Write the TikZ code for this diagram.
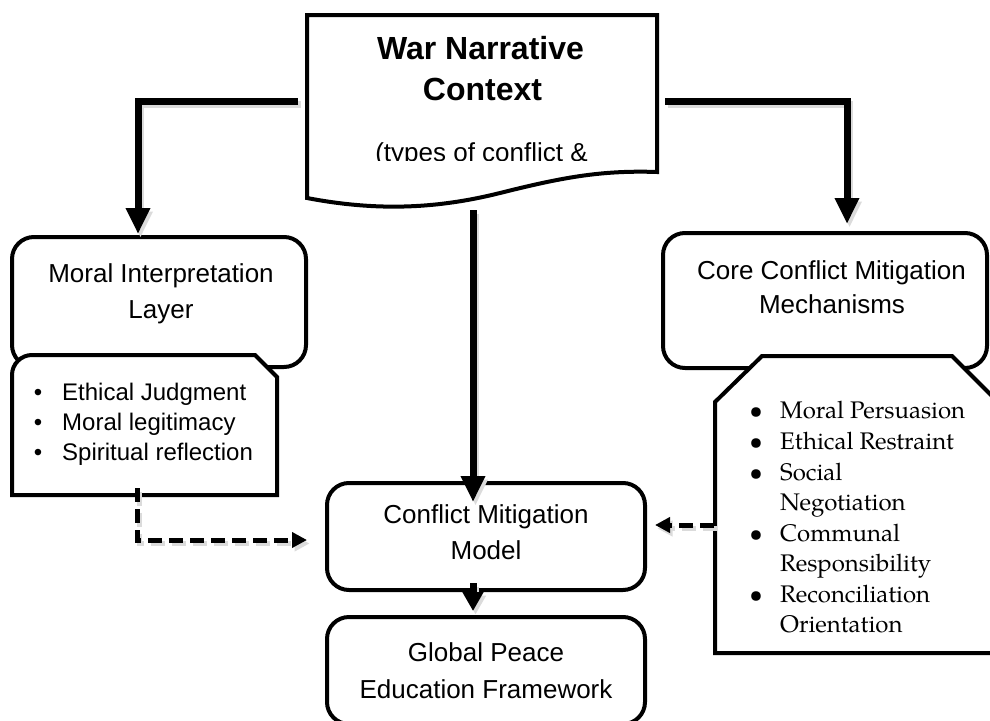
\documentclass[tikz,border=0pt]{standalone}
\usepackage{fontspec}
\setmainfont{Liberation Sans}
\newfontfamily\palfont{TeX Gyre Pagella}
\usetikzlibrary{arrows.meta}
\newcommand{\bul}{\llap{\makebox[0pt][c]{\textbullet}\hspace{24pt}}}
\begin{document}
\begin{tikzpicture}[x=1pt,y=-1pt,
  boxline/.style={draw=black, line width=4pt, fill=white, line join=miter},
  rbox/.style={boxline, rounded corners=22pt, inner sep=0pt},
  txt/.style={anchor=base, inner sep=0pt, font=\fontsize{26}{30}\selectfont},
  ttl/.style={anchor=base, inner sep=0pt, font=\fontsize{32}{38}\selectfont\bfseries},
  bl/.style={anchor=base west, inner sep=0pt, font=\fontsize{24}{28}\selectfont},
  br/.style={anchor=base west, inner sep=0pt, font=\palfont\fontsize{24}{28}\selectfont},
  bigarrow/.style={line width=7pt, line join=miter, -{Triangle[width=23pt,length=26pt]}},
  smallarrow/.style={line width=7pt, -{Triangle[width=20pt,length=19pt]}},
  dasharrow/.style={line width=5pt, dash pattern=on 14pt off 7pt, line join=miter, -{Triangle[width=15pt,length=15pt]}},
  shade/.style={draw=black!14, transform canvas={xshift=2.5pt,yshift=-3.5pt}}
]
\clip (0,0) rectangle (990,720);
\fill[white] (0,0) rectangle (990,720);

% ---------- top document shape ----------
\draw[boxline] (307,198) -- (307,15) -- (657,15) -- (657,172)
  .. controls (600,170) and (560,178) .. (500,193)
  .. controls (440,208) and (380,212) .. (307,198) -- cycle;
\node[ttl] (t1) at (480.5,59) {War Narrative};
\node[ttl] (t2) at (482.5,100) {Context};
\begin{scope}
  \clip (300,0) rectangle (660,160);
  \node[txt] (t3) at (481.5,161) {(types of conflict \&};
\end{scope}
\coordinate (docL) at (298,101);
\coordinate (docR) at (665,101);
\coordinate (docB) at (473,210);

% ---------- boxes ----------
\node[rbox, minimum width=294pt, minimum height=130pt] (mil) at (159,302) {};
\node[rbox, minimum width=324pt, minimum height=135pt] (ccm) at (825,300.5) {};
\node[rbox, minimum width=318pt, minimum height=107pt] (cmm) at (486,536.5) {};
\node[rbox, minimum width=318pt, minimum height=107pt] (gpe) at (486,670.5) {};

% left bullet box
\draw[boxline] (12,495) -- (12,375) .. controls (12,364) and (21,355) .. (32,355)
  -- (255,355) -- (277,377) -- (277,495) -- cycle;
% right bullet box
\draw[boxline] (715,402) -- (762,356) -- (952,356) -- (1012,416) -- (1012,653) -- (715,653) -- cycle;

% ---------- box texts ----------
\node[txt] (mil1) at (161,282) {Moral Interpretation};
\node[txt] (mil2) at (161,318) {Layer};
\node[txt] (ccm1) at (831.5,279) {Core Conflict Mitigation};
\node[txt] (ccm2) at (832,313) {Mechanisms};
\node[txt] (cmm1) at (486,523) {Conflict Mitigation};
\node[txt] (cmm2) at (486,559) {Model};
\node[txt] (gpe1) at (486,661) {Global Peace};
\node[txt] (gpe2) at (486,698) {Education Framework};

\node[bl] (l1) at (62,400) {\bul Ethical Judgment};
\node[bl] (l2) at (62,430) {\bul Moral legitimacy};
\node[bl] (l3) at (62,460) {\bul Spiritual reflection};

\node[br] (r1) at (780,418) {\bul Moral Persuasion};
\node[br] (r2) at (780,449) {\bul Ethical Restraint};
\node[br] (r3) at (780,480) {\bul Social};
\node[br] (r4) at (780,510) {Negotiation};
\node[br] (r5) at (780,541) {\bul Communal};
\node[br] (r6) at (780,571) {Responsibility};
\node[br] (r7) at (780,602) {\bul Reconciliation};
\node[br] (r8) at (780,632) {Orientation};

% ---------- connector end points ----------
\coordinate (milIn) at (138,234);
\coordinate (ccmIn) at (847,224);
\coordinate (cmmIn) at (473,502);
\coordinate (cmmOut) at (473,583);
\coordinate (gpeIn) at (473,611);
\coordinate (mibOut) at (137,488);
\coordinate (cmmL) at (307,540);
\coordinate (ccbOut) at (714,525);
\coordinate (cmmR) at (655,525);

% ---------- shadows ----------
\draw[bigarrow, shade] (docL) -| (milIn);
\draw[bigarrow, shade] (docR) -| (ccmIn);
\draw[bigarrow, shade] (docB) -- (cmmIn);
\draw[smallarrow, shade] (cmmOut) -- (gpeIn);
\draw[dasharrow, shade] (mibOut) |- (cmmL);
\draw[dasharrow, shade] (ccbOut) -- (cmmR);

% ---------- connectors ----------
\draw[bigarrow] (docL) -| (milIn);
\draw[bigarrow] (docR) -| (ccmIn);
\draw[bigarrow] (docB) -- (cmmIn);
\draw[smallarrow] (cmmOut) -- (gpeIn);
\draw[dasharrow] (mibOut) |- (cmmL);
\draw[dasharrow] (ccbOut) -- (cmmR);
\end{tikzpicture}
\end{document}
